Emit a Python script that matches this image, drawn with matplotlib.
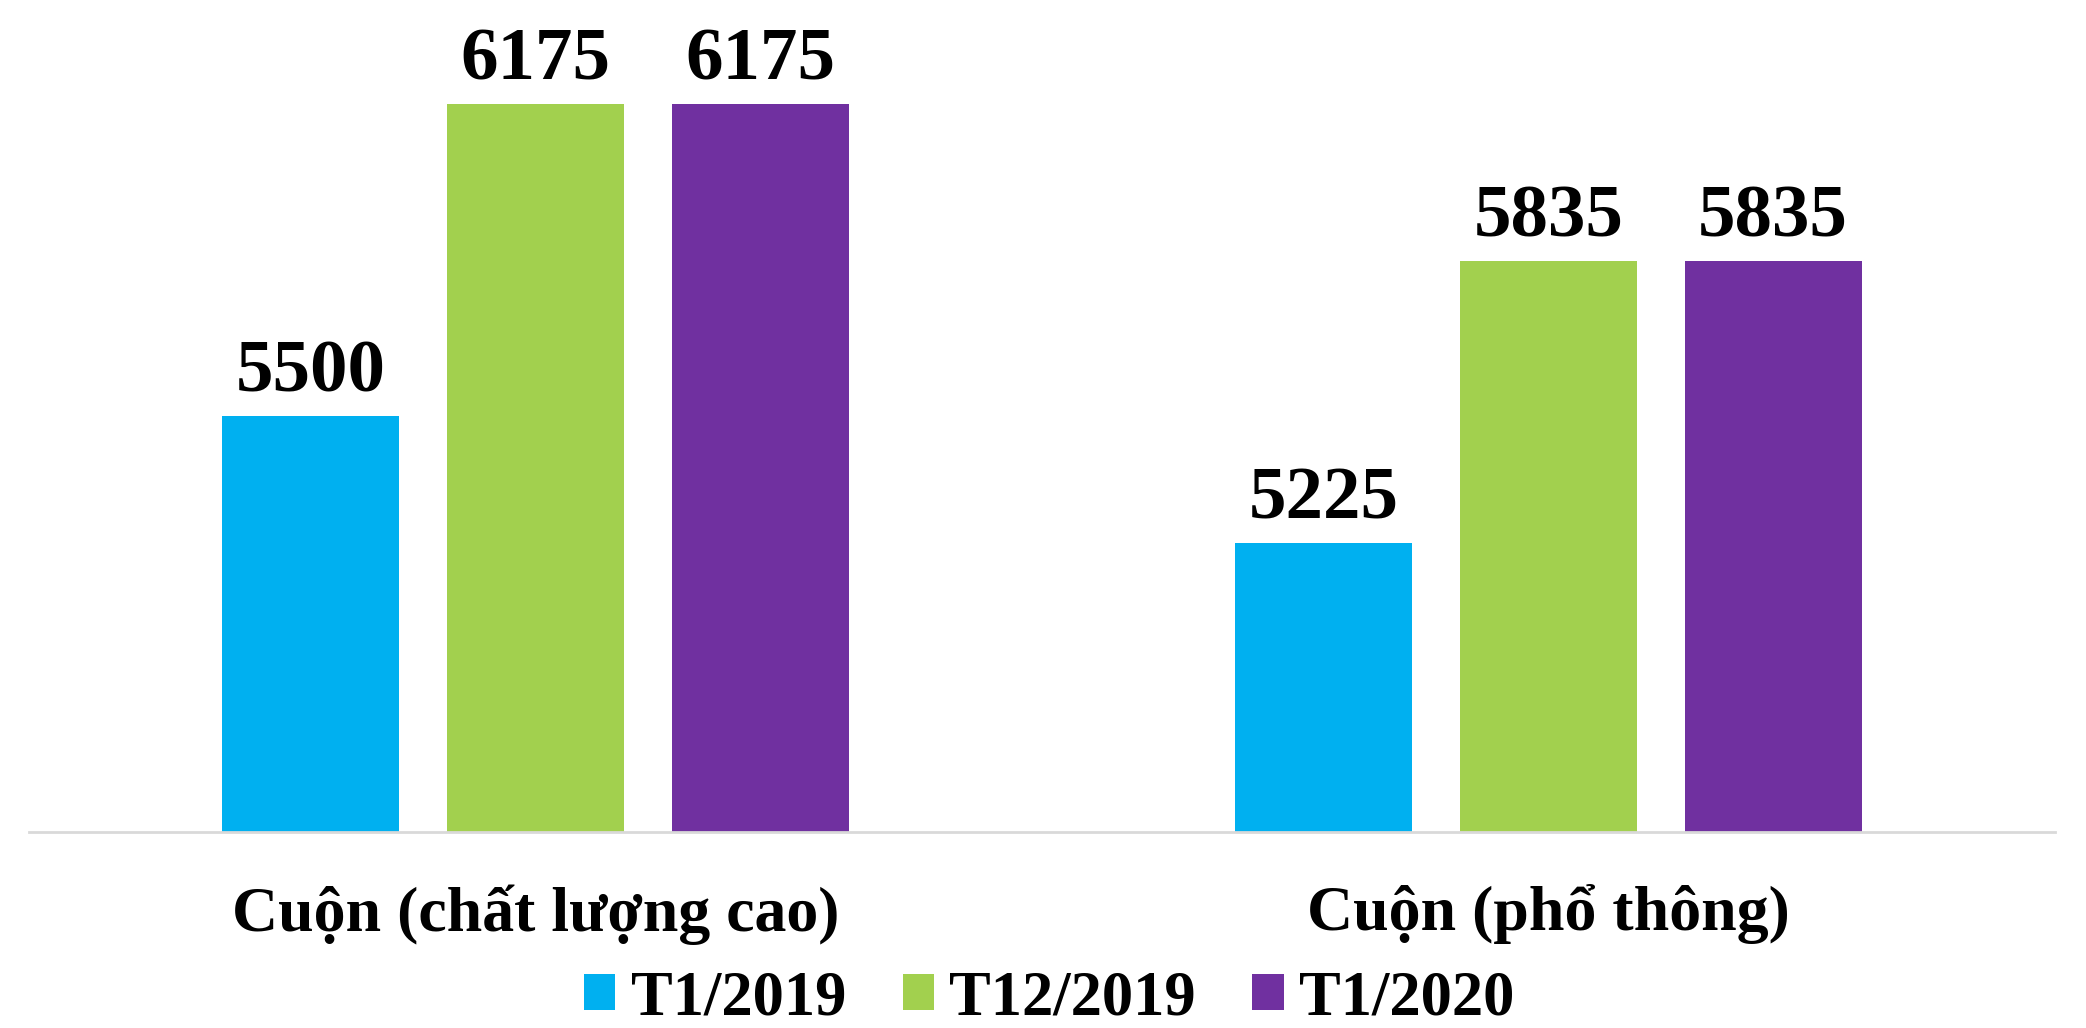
import numpy as np
import matplotlib
matplotlib.use("Agg")
import matplotlib.pyplot as plt

# Data
categories = ["Cuộn (chất lượng cao)", "Cuộn (phổ thông)"]
series_names = ["T1/2019", "T12/2019", "T1/2020"]
t1_2019 = [5500, 5225]
t12_2019 = [6175, 5835]
t1_2020 = [6175, 5835]
colors = ["#00B0F0", "#A2D04E", "#7030A0"]

plt.rcParams['font.family'] = ['Liberation Serif', 'DejaVu Serif']

fig = plt.figure(figsize=(20.86, 10.28), dpi=100)
ax = fig.add_axes([0.014, 0.191, 0.971, 0.809])

x = np.arange(len(categories))
width = 0.175
step = 0.222

for i, (vals, name, col) in enumerate(zip([t1_2019, t12_2019, t1_2020], series_names, colors)):
    bars = ax.bar(x + (i - 1) * step, vals, width, color=col, label=name, zorder=2)
    for b, v in zip(bars, vals):
        ax.annotate(str(v), (b.get_x() + b.get_width() / 2, v),
                    xytext=(0, 6), textcoords="offset points",
                    ha="center", va="bottom", fontsize=54, fontweight="bold")

ax.set_xlim(-0.5, 1.5)
ax.set_ylim(4600, 6400)
ax.set_yticks([])
ax.set_xticks(x)
ax.set_xticklabels(categories, fontsize=46, fontweight="bold")
ax.tick_params(axis="x", length=0, pad=38)
for side in ["top", "left", "right"]:
    ax.spines[side].set_visible(False)
ax.spines["bottom"].set_color("#D9D9D9")
ax.spines["bottom"].set_linewidth(2)

fig.legend(loc="lower center", ncol=3, frameon=False,
           bbox_to_anchor=(0.503, -0.055),
           prop={"size": 45, "weight": "bold"},
           handlelength=0.5, handleheight=0.5, handletextpad=0.25,
           columnspacing=0.9)

fig.savefig("out.png", dpi=100)
